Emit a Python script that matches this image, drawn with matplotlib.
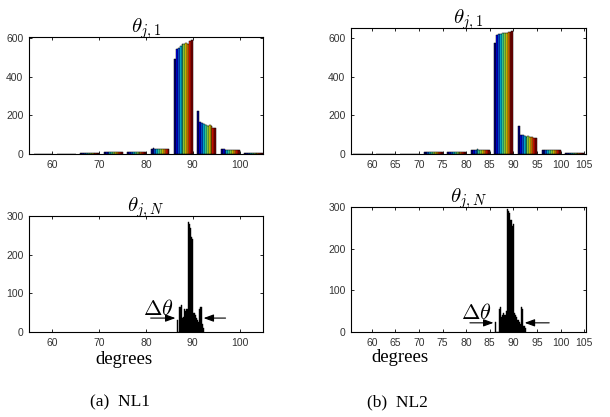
import numpy as np
import matplotlib
matplotlib.use("Agg")
import matplotlib.pyplot as plt

plt.rcParams["mathtext.fontset"] = "cm"

W, H = 610, 417

# group centres (degrees), 10 series per group
centres = [58, 63, 68, 73, 78, 83, 88, 93, 98, 103]

nl1_first = [
    [2, 2, 2, 2, 2, 2, 2, 2, 2, 2],
    [0, 0, 0, 0, 0, 0, 0, 0, 0, 0],
    [3, 3, 3, 3, 3, 3, 3, 3, 3, 3],
    [10, 10, 10, 10, 10, 10, 10, 10, 10, 10],
    [8, 8, 8, 9, 9, 9, 8, 8, 8, 8],
    [28, 30, 28, 27, 27, 26, 26, 25, 25, 25],
    [490, 545, 550, 560, 570, 568, 575, 570, 585, 590],
    [220, 165, 162, 155, 148, 143, 148, 143, 135, 133],
    [25, 25, 22, 20, 20, 20, 20, 20, 20, 20],
    [5, 5, 4, 4, 4, 4, 3, 3, 3, 3],
]

nl2_first = [
    [1, 1, 1, 1, 1, 1, 1, 1, 1, 1],
    [1, 1, 1, 1, 1, 1, 1, 1, 1, 1],
    [2, 2, 2, 2, 2, 2, 2, 2, 2, 2],
    [10, 10, 9, 9, 9, 9, 9, 9, 9, 9],
    [8, 8, 9, 9, 10, 10, 11, 12, 12, 12],
    [22, 23, 23, 24, 22, 20, 20, 20, 20, 20],
    [575, 615, 620, 620, 628, 625, 625, 630, 632, 635],
    [145, 100, 97, 95, 90, 92, 90, 88, 85, 85],
    [22, 20, 20, 20, 20, 20, 20, 20, 20, 20],
    [5, 5, 5, 4, 4, 4, 4, 4, 3, 3],
]

# final histograms (fine bins)
nl1_bins = [86.75, 87.0, 87.25, 87.5, 87.75, 88.0, 88.25, 88.5, 88.75, 89.0,
            89.25, 89.5, 89.75, 90.0, 90.25, 90.5, 90.75, 91.0, 91.25, 91.5,
            91.75, 92.0, 92.25]
nl1_last = [30, 0, 65, 70, 35, 40, 60, 55, 60, 285,
            280, 270, 245, 240, 50, 45, 35, 30, 25, 60,
            65, 20, 10]

nl2_bins = [86.25, 86.5, 86.75, 87.0, 87.25, 87.5, 87.75, 88.0, 88.25, 88.5,
            88.75, 89.0, 89.25, 89.5, 89.75, 90.0, 90.25, 90.5, 90.75, 91.0,
            91.25, 91.5, 91.75, 92.0, 92.25, 92.5]
nl2_last = [25, 0, 0, 55, 60, 35, 40, 45, 40, 50,
            295, 290, 285, 270, 255, 260, 45, 40, 35, 30,
            25, 20, 60, 55, 15, 10]


def px_axes(fig, x0, y0, x1, y1):
    return fig.add_axes([x0 / W, 1 - y1 / H, (x1 - x0) / W, (y1 - y0) / H])


def style(ax, xlim, ylim, xticks, yticks):
    ax.set_xlim(*xlim)
    ax.set_ylim(*ylim)
    ax.set_xticks(xticks)
    ax.set_yticks(yticks)
    ax.tick_params(direction="in", top=True, right=True, length=2.5,
                   width=0.6, labelsize=7.5, pad=4, labelcolor="#333333")
    for lab in ax.get_xticklabels() + ax.get_yticklabels():
        lab.set_family(["Liberation Sans Narrow", "Liberation Sans"])
    for s in ax.spines.values():
        s.set_linewidth(0.8)


def grouped(ax, data):
    colors = plt.cm.jet(np.linspace(0, 1, 10))
    n = 10
    bw = 4.0 / n
    for k in range(n):
        xs = [c - 2 + bw * (k + 0.5) for c in centres]
        ys = [row[k] for row in data]
        ax.bar(xs, ys, width=bw, color=colors[k], edgecolor="black",
               linewidth=0.35)


def arrows(ax, y, lx0, lx1, rx0, rx1, tx, ty):
    kw = dict(arrowstyle="-|>,head_width=0.22,head_length=0.6", color="black",
              lw=0.8, shrinkA=0, shrinkB=0)
    ax.annotate("", xy=(lx1, y), xytext=(lx0, y), arrowprops=kw)
    ax.annotate("", xy=(rx1, y), xytext=(rx0, y), arrowprops=kw)
    ax.text(tx, ty, r"$\Delta\theta$", fontsize=16, ha="center", va="center")


fig = plt.figure(figsize=(W / 100, H / 100), dpi=100)

# NL1 top
ax = px_axes(fig, 29, 37, 263, 154)
grouped(ax, nl1_first)
style(ax, (55, 105), (0, 605), [60, 70, 80, 90, 100], [0, 200, 400, 600])
ax.set_title(r"$\theta_{j,1}$", fontsize=15, pad=3)

# NL2 top
ax = px_axes(fig, 351, 28, 586, 154)
grouped(ax, nl2_first)
style(ax, (55.6, 105.4), (0, 652), list(range(60, 106, 5)), [0, 200, 400, 600])
ax.set_title(r"$\theta_{j,1}$", fontsize=15, pad=3)

# NL1 bottom
ax = px_axes(fig, 29, 216, 263, 332)
ax.bar(nl1_bins, nl1_last, width=0.25, color="black", edgecolor="black",
       linewidth=0.3)
style(ax, (55, 105), (0, 300), [60, 70, 80, 90, 100], [0, 100, 200, 300])
ax.set_title(r"$\theta_{j,N}$", fontsize=15, pad=3)
arrows(ax, 36, 81.0, 86.3, 97.0, 92.3, 82.6, 59)

# NL2 bottom
ax = px_axes(fig, 351, 207, 586, 332)
ax.bar(nl2_bins, nl2_last, width=0.25, color="black", edgecolor="black",
       linewidth=0.3)
style(ax, (55.6, 105.4), (0, 300), list(range(60, 106, 5)), [0, 100, 200, 300])
ax.set_title(r"$\theta_{j,N}$", fontsize=15, pad=3)
arrows(ax, 22, 80.8, 85.8, 97.6, 92.4, 82.2, 46)

serif = ["Liberation Serif", "DejaVu Serif"]
fig.text(124 / W, 1 - 360 / H, "degrees", family=serif, fontsize=13.5,
         ha="center", va="center")
fig.text(400 / W, 1 - 357 / H, "degrees", family=serif, fontsize=13.5,
         ha="center", va="center")
fig.text(120 / W, 1 - 402 / H, "(a)  NL1", family=serif, fontsize=12.5,
         ha="center", va="center")
fig.text(397 / W, 1 - 402 / H, "(b)  NL2", family=serif, fontsize=12.5,
         ha="center", va="center")

fig.savefig("out.png", dpi=100)
